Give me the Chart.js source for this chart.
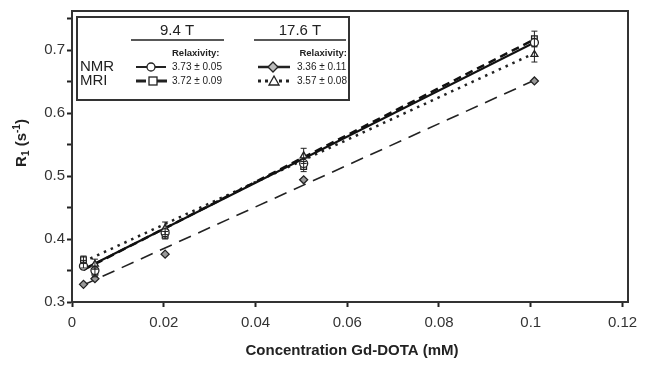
<!DOCTYPE html>
<html>
<head>
<meta charset="utf-8">
<script src="https://cdn.jsdelivr.net/npm/chart.js@4.4.1/dist/chart.umd.min.js"></script>
<style>
  html, body { margin: 0; padding: 0; background: #fff; }
  #wrap { width: 649px; height: 368px; }
</style>
</head>
<body>
<div id="wrap"><canvas id="myChart" width="649" height="368"></canvas></div>
<script>
// Data
var conc = [0.0025, 0.005, 0.0203, 0.0505, 0.1008];
var nmr94 = [0.357, 0.350, 0.410, 0.520, 0.712];
var mri94 = [0.367, 0.347, 0.406, 0.515, 0.718];
var nmr176 = [0.328, 0.337, 0.376, 0.494, 0.651];
var mri176 = [0.360, 0.360, 0.417, 0.532, 0.693];
var mri94Err = [0.006, 0.007, 0.006, 0.008, 0.012];
var mri176Err = [0.006, 0.008, 0.010, 0.012, 0.012];

// fitted lines (end points)
var fitX = [0.0025, 0.1008];
var nmr94Fit = [0.352, 0.712];
var mri94Fit = [0.351, 0.717];
var nmr176Fit = [0.327, 0.652];
var mri176Fit = [0.364, 0.695];

var xTicks = [0, 0.02, 0.04, 0.06, 0.08, 0.1, 0.12];
var yTicks = [0.3, 0.4, 0.5, 0.6, 0.7];

var FONT = '"Liberation Sans", Arial, sans-serif';
var INK = '#222';

function pts(xs, ys) {
  return xs.map(function(x, i) { return { x: x, y: ys[i] }; });
}

function pointSet(label, ys, style, fill) {
  return {
    label: label, data: pts(conc, ys), showLine: false,
    pointStyle: style, pointRadius: 4, pointBorderWidth: 1.3,
    pointBackgroundColor: fill, pointBorderColor: INK, order: 1
  };
}

function lineSet(label, ys, width, dash, color) {
  return {
    label: label, data: pts(fitX, ys), showLine: true,
    borderColor: color, borderWidth: width, borderDash: dash,
    pointRadius: 0, fill: false, order: 2
  };
}

// error bars, axis titles, frame and legend box
var extras = {
  id: 'extras',
  afterDatasetsDraw: function(chart) {
    var c = chart.ctx, xs = chart.scales.x, ys = chart.scales.y;
    c.save();
    c.strokeStyle = INK;
    c.lineWidth = 1;
    [[mri94, mri94Err], [mri176, mri176Err]].forEach(function(p) {
      p[0].forEach(function(v, i) {
        var px = xs.getPixelForValue(conc[i]);
        var t = ys.getPixelForValue(v + p[1][i]), b = ys.getPixelForValue(v - p[1][i]);
        c.beginPath();
        c.moveTo(px, t); c.lineTo(px, b);
        c.moveTo(px - 3, t); c.lineTo(px + 3, t);
        c.moveTo(px - 3, b); c.lineTo(px + 3, b);
        c.stroke();
      });
    });
    c.restore();
  },
  afterDraw: function(chart) {
    var c = chart.ctx, a = chart.chartArea;
    c.save();
    // frame
    c.strokeStyle = '#333';
    c.lineWidth = 2;
    c.strokeRect(a.left, a.top, a.right - a.left, a.bottom - a.top);

    // y title
    c.fillStyle = INK;
    c.save();
    c.translate(22, 143);
    c.rotate(-Math.PI / 2);
    c.font = 'bold 15px ' + FONT;
    c.textBaseline = 'middle';
    var w1 = c.measureText('R').width;
    c.font = 'bold 10px ' + FONT;
    var w2 = c.measureText('1').width;
    c.font = 'bold 15px ' + FONT;
    var w3 = c.measureText(' (s').width;
    c.font = 'bold 10px ' + FONT;
    var w4 = c.measureText('-1').width;
    c.font = 'bold 15px ' + FONT;
    var w5 = c.measureText(')').width;
    var x0 = -(w1 + w2 + w3 + w4 + w5) / 2;
    c.fillText('R', x0, 0);
    c.font = 'bold 10px ' + FONT;
    c.fillText('1', x0 + w1, 4);
    c.font = 'bold 15px ' + FONT;
    c.fillText(' (s', x0 + w1 + w2, 0);
    c.font = 'bold 10px ' + FONT;
    c.fillText('-1', x0 + w1 + w2 + w3, -5);
    c.font = 'bold 15px ' + FONT;
    c.fillText(')', x0 + w1 + w2 + w3 + w4, 0);
    c.restore();

    // x title
    c.font = 'bold 15px ' + FONT;
    c.textAlign = 'center';
    c.textBaseline = 'middle';
    c.fillText('Concentration Gd-DOTA (mM)', 352, 351);

    // legend box
    c.fillStyle = '#fff';
    c.fillRect(77, 17, 272, 83);
    c.strokeStyle = '#333';
    c.lineWidth = 2;
    c.strokeRect(77, 17, 272, 83);

    c.fillStyle = INK;
    c.font = '15px ' + FONT;
    c.fillText('9.4 T', 177, 31);
    c.fillText('17.6 T', 300, 31);
    c.lineWidth = 1.5;
    c.strokeStyle = INK;
    c.beginPath();
    c.moveTo(131, 40); c.lineTo(224, 40);
    c.moveTo(254, 40); c.lineTo(346, 40);
    c.stroke();

    c.font = 'bold 9.5px ' + FONT;
    c.textAlign = 'left';
    c.fillText('Relaxivity:', 172, 53);
    c.textAlign = 'right';
    c.fillText('Relaxivity:', 347, 53);

    c.font = '15px ' + FONT;
    c.textAlign = 'left';
    c.fillText('NMR', 80, 67);
    c.fillText('MRI', 80, 81);

    c.font = '10px ' + FONT;
    c.fillText('3.73 \u00b1 0.05', 172, 67);
    c.fillText('3.72 \u00b1 0.09', 172, 81);
    c.fillText('3.36 \u00b1 0.11', 297, 67);
    c.fillText('3.57 \u00b1 0.08', 297, 81);

    function sample(x1, x2, y, width, dash) {
      c.save();
      c.lineWidth = width;
      c.setLineDash(dash);
      c.beginPath();
      c.moveTo(x1, y); c.lineTo(x2, y);
      c.stroke();
      c.restore();
    }
    c.strokeStyle = INK;
    sample(136, 166, 67, 2, []);
    sample(136, 168, 81, 3, [10, 4, 3, 4]);
    sample(258, 290, 67, 2.5, []);
    sample(258, 292, 81, 3, [3, 4]);
    c.lineWidth = 1.3;
    c.beginPath(); c.arc(151, 67, 4, 0, Math.PI * 2); c.fillStyle = '#fff'; c.fill(); c.stroke();
    c.fillStyle = '#fff'; c.fillRect(149, 77, 8, 8); c.strokeRect(149, 77, 8, 8);
    c.beginPath(); c.moveTo(273, 62); c.lineTo(278, 67); c.lineTo(273, 72); c.lineTo(268, 67); c.closePath();
    c.fillStyle = '#bbb'; c.fill(); c.stroke();
    c.beginPath(); c.moveTo(274, 76); c.lineTo(279, 85); c.lineTo(269, 85); c.closePath();
    c.fillStyle = '#fff'; c.fill(); c.stroke();
    c.restore();
  }
};

var ctx = document.getElementById('myChart').getContext('2d');
var myChart = new Chart(ctx, {
  type: 'scatter',
  data: {
    datasets: [
      lineSet('NMR 9.4 T fit', nmr94Fit, 2, [], '#111'),
      lineSet('MRI 9.4 T fit', mri94Fit, 2.5, [8, 5], '#111'),
      lineSet('NMR 17.6 T fit', nmr176Fit, 1.6, [13, 8], '#222'),
      lineSet('MRI 17.6 T fit', mri176Fit, 2.5, [2.5, 5], '#222'),
      pointSet('NMR 9.4 T', nmr94, 'circle', '#fff'),
      pointSet('MRI 9.4 T', mri94, 'rect', '#fff'),
      pointSet('NMR 17.6 T', nmr176, 'rectRot', '#999'),
      pointSet('MRI 17.6 T', mri176, 'triangle', '#fff')
    ]
  },
  options: {
    responsive: false,
    animation: false,
    layout: { padding: { top: 10, right: 21, left: 0, bottom: 0 } },
    plugins: { legend: { display: false }, tooltip: { enabled: false } },
    scales: {
      x: {
        type: 'linear', min: 0, max: 0.1212,
        afterFit: function(s) { s.height = 66; },
        afterBuildTicks: function(s) { s.ticks = xTicks.map(function(v) { return { value: v }; }); },
        grid: { drawOnChartArea: false, tickLength: 5, color: INK, tickWidth: 2 },
        border: { color: '#333', width: 2 },
        ticks: {
          padding: 7, color: '#333', font: { family: FONT, size: 15 },
          callback: function(v) { return String(+v.toFixed(2)); }
        }
      },
      y: {
        type: 'linear', min: 0.3, max: 0.762,
        afterFit: function(s) { s.width = 72; },
        afterBuildTicks: function(s) {
          var t = [];
          for (var i = 0; i < 10; i++) t.push({ value: +(0.3 + i * 0.05).toFixed(2) });
          s.ticks = t;
        },
        grid: { drawOnChartArea: false, tickLength: 5, color: INK, tickWidth: 2 },
        border: { color: '#333', width: 2 },
        ticks: {
          padding: 2, color: '#333', font: { family: FONT, size: 15 },
          callback: function(v) {
            return yTicks.indexOf(+v.toFixed(2)) >= 0 ? String(+v.toFixed(1)) : '';
          }
        }
      }
    }
  },
  plugins: [extras]
});
</script>
</body>
</html>
